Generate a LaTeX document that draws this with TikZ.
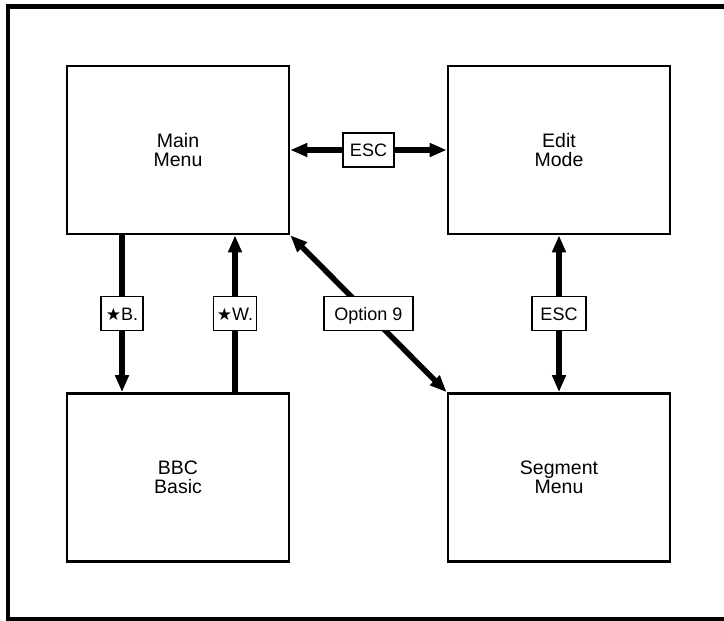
\documentclass[tikz,border=0pt]{standalone}
\usepackage{fontspec}
\setmainfont{Liberation Sans}
\newfontfamily\symfont{DejaVu Sans}
\usetikzlibrary{arrows.meta}

% small star used in the key labels
\newcommand{\keystar}{{\symfont\fontsize{17}{17}\selectfont ★}}

\begin{document}
\begin{tikzpicture}[x=1pt,y=-1pt,
  state/.style={draw, line width=2.6pt, minimum width=222pt, minimum height=168pt,
    align=center, inner sep=0pt, font=\fontsize{19.5}{19.5}\selectfont},
  keylabel/.style={draw, fill=white, line width=1.4pt, inner xsep=6pt, inner ysep=0pt,
    minimum height=34pt, text height=13pt, text depth=0pt,
    font=\fontsize{18}{18}\selectfont},
  flow/.style={line width=5.5pt,
    -{Triangle[length=17pt,width=13pt]}},
  twoway/.style={line width=5.5pt,
    {Triangle[length=17pt,width=13pt]}-{Triangle[length=17pt,width=13pt]}}]

  \useasboundingbox (0,0) rectangle (724,621);

  % outer frame, open on the right
  \draw[line width=4.5pt] (735,6.5) -- (8,6.5) -- (8,619) -- (735,619);

  % the four states
  \node[state] (main) at (178,150) {Main\\Menu};
  \node[state] (edit) at (559,150) {Edit\\Mode};
  \node[state] (bbc)  at (178,477.5) {BBC\\Basic};
  \node[state] (seg)  at (559,477.5) {Segment\\Menu};

  % columns of the two vertical key arrows
  \coordinate (colB) at (122,0);
  \coordinate (colW) at (235,0);

  % transitions
  \draw[twoway] (main.east) -- node[keylabel, minimum width=51pt] {ESC} (edit.west);
  \draw[flow] (main.south -| colB) -- node[keylabel, minimum width=42pt, inner xsep=2pt] {\keystar B.} (bbc.north -| colB);
  \draw[flow] (bbc.north -| colW) -- node[keylabel, minimum width=43pt, inner xsep=2pt] {\keystar W.} (main.south -| colW);
  \draw[twoway] (main.south east) -- node[keylabel, minimum width=89pt] {Option 9} (seg.north west);
  \draw[twoway] (edit.south) -- node[keylabel, minimum width=54pt] {ESC} (seg.north);
\end{tikzpicture}
\end{document}
